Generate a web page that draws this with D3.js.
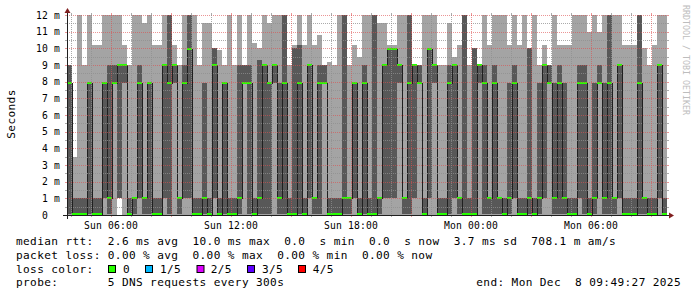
<!DOCTYPE html>
<html><head><meta charset="utf-8">
<script src="https://cdn.jsdelivr.net/npm/d3@7"></script>
<style>
html,body{margin:0;padding:0;background:#fff;}
svg{display:block;}
text{font-family:"DejaVu Sans Mono",monospace;white-space:pre;}
</style></head><body>
<svg id="c" width="697" height="297"></svg>
<script>
// ---- data (15-minute bins, values in ms) ----
const binMinutes = 15;
const startTime = new Date(2025, 11, 7, 3, 49, 27);
const endTime = new Date(2025, 11, 8, 9, 49, 27);

const median = [
7.9,0.06,0.06,0.06,7.9,0.06,0.06,7.9,1.04,7.9,
9.0,9.0,0.06,1.04,7.9,1.04,7.9,0.06,0.06,9.0,
7.9,9.0,1.04,7.9,9.96,0.06,0.06,1.04,0.06,9.0,
0.06,7.9,0.06,0.06,1.04,7.9,7.9,0.06,1.04,9.0,
7.9,9.0,1.04,7.9,0.06,0.06,7.9,0.06,9.0,1.04,
7.9,7.9,0.06,0.06,0.06,1.04,1.04,7.9,0.06,7.9,
0.06,0.06,1.04,9.0,9.96,9.96,9.0,1.04,7.9,9.0,
7.9,0.06,9.96,9.0,0.06,0.06,7.9,9.0,1.04,0.06,
0.06,0.06,9.0,7.9,1.04,7.9,1.04,0.06,1.04,7.9,
0.06,0.06,1.04,0.06,1.04,9.0,7.9,1.04,7.9,1.04,
0.06,0.06,7.9,7.9,0.06,1.04,7.9,1.04,7.9,1.04,
9.0,0.06,0.06,0.06,7.9,1.04,0.06,0.06,9.0,0.06];

const pMax = [
9.0,3.5,12.5,9.0,12.5,10.2,10.2,12.5,12.5,12.5,
12.5,10.2,9.0,12.5,12.5,11.5,12.5,10.2,10.2,12.5,
12.5,10.2,9.0,12.5,12.5,12.5,9.0,11.5,11.5,10.0,
9.9,9.0,12.5,9.0,12.5,9.0,12.5,10.3,10.0,12.5,
11.5,12.5,12.5,12.5,9.0,10.2,12.5,10.2,12.5,10.2,
10.8,9.0,9.2,9.0,12.5,12.5,9.0,10.2,9.5,12.5,
12.5,12.5,11.5,11.5,10.2,10.2,12.5,12.5,12.5,9.0,
9.0,12.5,12.5,12.5,9.0,9.0,11.5,9.5,10.2,12.5,
9.0,10.0,9.0,12.5,10.2,12.5,12.5,12.5,10.2,12.5,
10.2,12.5,10.0,12.5,9.0,10.2,9.0,12.5,10.2,10.2,
10.2,12.5,12.5,12.5,11.0,12.5,11.0,12.5,12.5,12.5,
12.5,10.2,10.2,10.2,12.5,10.0,9.0,10.2,12.5,12.5];

const pHigh = [
9.0,1.05,1.05,1.05,7.95,1.05,1.05,7.95,9.0,9.0,
9.0,9.0,1.05,1.05,9.0,1.05,7.95,1.05,1.05,9.0,
12.5,9.0,1.05,9.0,12.5,1.05,1.05,7.95,1.05,10.0,
1.05,7.95,1.05,1.05,9.0,9.0,9.0,1.05,9.3,9.0,
7.95,9.0,7.95,12.5,1.05,10.0,10.2,1.05,9.0,1.05,
9.0,9.0,1.05,1.05,1.05,12.5,1.05,7.95,1.05,9.0,
1.05,12.5,1.05,9.0,10.0,10.0,9.0,1.05,12.5,9.0,
9.0,1.05,10.0,9.0,1.05,1.05,9.0,9.0,1.05,12.5,
1.05,10.0,9.0,9.0,1.05,9.0,1.05,1.05,7.95,9.0,
1.05,1.05,10.0,1.05,7.95,9.0,9.0,7.95,9.0,7.95,
1.05,1.05,9.0,9.0,1.05,7.95,9.0,7.95,12.5,1.05,
9.0,1.05,1.05,1.05,12.5,1.05,1.05,1.05,9.0,1.05];

const pLow = [
.06,.06,.06,.06,.06,.06,.06,1,.06,7.9,
1,7.9,.06,.06,1,.06,.06,.06,.06,1,
.06,7.9,.06,1,1,.06,.06,.06,.06,1,
.06,.06,.06,.06,.06,7.9,.06,.06,.06,.06,
.06,7.9,.06,.06,.06,.06,.06,.06,1,.06,
.06,7.9,.06,.06,.06,.06,.06,1,.06,.06,
.06,.06,.06,1,1,1,7.9,.06,.06,1,
7.9,.06,1,7.9,.06,.06,.06,1,.06,.06,
.06,.06,7.9,.06,.06,.06,.06,.06,.06,1,
.06,.06,.06,.06,.06,1,7.9,.06,.06,.06,
.06,.06,1,.06,.06,.06,7.9,.06,.06,.06,
1,.06,.06,.06,.06,.06,.06,.06,1,.06];

const pMinVal = [
.03,.03,.03,.03,.03,.03,.03,.03,.03,.03,
1,.03,.03,.03,.03,.03,.03,.03,.03,.03,
.03,.03,.03,.03,.03,.03,.03,.03,.03,.03,
.03,.03,.03,.03,.03,.03,.03,.03,.03,.03,
.03,.03,.03,.03,.03,.03,.03,.03,.03,.03,
.03,.03,.03,.03,.03,.03,.03,.03,.03,.03,
.03,.03,.03,.03,.03,.03,.03,.03,.03,.03,
.03,.03,.03,.03,.03,.03,.03,.03,.03,.03,
.03,.03,.03,.03,.03,.03,.03,.03,.03,.03,
.03,.03,.03,.03,.03,.03,.03,.03,.03,.03,
.03,.03,.03,.03,.03,.03,.03,.03,.03,.03,
.03,.03,.03,.03,.03,.03,.03,.03,.03,.03];

const yTickValues = [0,1,2,3,4,5,6,7,8,9,10,11,12];
const lossLabels = ["0","1/5","2/5","3/5","4/5"];
const lossColors = ["#26ff00","#00b8ff","#dd00ff","#5e00ff","#ff0000"];
const legendRows = [
  "median rtt:  2.6 ms avg  10.0 ms max  0.0  s min  0.0  s now  3.7 ms sd  708.1 m am/s",
  "packet loss: 0.00 % avg  0.00 % max  0.00 % min  0.00 % now",
  "loss color:",
  "probe:       5 DNS requests every 300s"
];
const endLabel = "end: Mon Dec  8 09:49:27 2025";

// ---- drawing ----
const svg = d3.select("#c");
const X0 = 67, X1 = 667, Y0 = 215, Y1 = 15;
const x = d3.scaleTime().domain([startTime, endTime]).range([X0, X1]);
const y = d3.scaleLinear().domain([0, 12]).range([Y0, Y1]);

svg.append("rect").attr("width",697).attr("height",297).attr("fill","#fff");
svg.append("clipPath").attr("id","pc").append("rect")
  .attr("x",X0).attr("y",Y1).attr("width",X1-X0).attr("height",Y0-Y1);

const bins = median.map((m,i)=>({
  t0: d3.timeMinute.offset(startTime, i*binMinutes),
  t1: d3.timeMinute.offset(startTime, (i+1)*binMinutes),
  med: m, mx: pMax[i], hi: pHigh[i], lo: pLow[i], mn: pMinVal[i]
}));

const g = svg.append("g").attr("clip-path","url(#pc)").attr("shape-rendering","crispEdges");
const bx = d => Math.round(x(d.t0));
const bw = d => Math.round(x(d.t1)) - Math.round(x(d.t0));
g.selectAll("rect.light").data(bins).join("rect")
  .attr("x",bx).attr("width",bw)
  .attr("y",d=>Math.round(y(d.mx))).attr("height",d=>Math.round(y(d.mn))-Math.round(y(d.mx)))
  .attr("fill","#a4a4a4");
g.selectAll("rect.dark").data(bins).join("rect")
  .attr("x",bx).attr("width",bw)
  .attr("y",d=>Math.round(y(d.hi))).attr("height",d=>Math.round(y(d.lo))-Math.round(y(d.hi)))
  .attr("fill","#585858");
const linePts = bins.map(b=>({t:b.t0,v:b.med})).concat([{t:bins[bins.length-1].t1, v:bins[bins.length-1].med}]);
g.append("path").datum(linePts)
  .attr("d", d3.line().x(d=>Math.round(x(d.t))+0.5).y(d=>Math.round(y(d.v))+0.5).curve(d3.curveStepAfter))
  .attr("fill","none").attr("stroke","#202020").attr("stroke-width",1);
g.selectAll("rect.med").data(bins).join("rect")
  .attr("x",bx).attr("width",bw)
  .attr("y",d=>Math.round(y(d.med))-1).attr("height",2)
  .attr("fill",lossColors[0]);

// grid
const minorCol = "rgba(143,143,143,0.75)", majorCol = "rgba(222,79,79,0.6)";
const grid = svg.append("g").attr("shape-rendering","crispEdges");
const yMinor = d3.range(0.5, 12, 1);
yMinor.forEach(v=>{
  const yy = Math.round(y(v))+0.5;
  grid.append("line").attr("x1",X0).attr("x2",X1).attr("y1",yy).attr("y2",yy)
    .attr("stroke",minorCol).attr("stroke-dasharray","1,1");
  grid.append("line").attr("x1",X0-2).attr("x2",X0).attr("y1",yy).attr("y2",yy).attr("stroke",minorCol);
  grid.append("line").attr("x1",X1).attr("x2",X1+2).attr("y1",yy).attr("y2",yy).attr("stroke",minorCol);
});
yTickValues.filter(v=>v>0).forEach(v=>{
  const yy = Math.round(y(v))+0.5;
  grid.append("line").attr("x1",X0).attr("x2",X1).attr("y1",yy).attr("y2",yy)
    .attr("stroke",majorCol).attr("stroke-dasharray","1,1");
  grid.append("line").attr("x1",X0-2).attr("x2",X0).attr("y1",yy).attr("y2",yy).attr("stroke",majorCol);
  grid.append("line").attr("x1",X1).attr("x2",X1+2).attr("y1",yy).attr("y2",yy).attr("stroke",majorCol);
});
const hours = d3.timeHour.range(d3.timeHour.ceil(startTime), endTime);
hours.forEach(t=>{
  const major = t.getHours() % 3 === 0;
  const xx = Math.round(x(t))+0.5, col = major ? majorCol : minorCol;
  grid.append("line").attr("x1",xx).attr("x2",xx).attr("y1",Y1).attr("y2",Y0)
    .attr("stroke",col).attr("stroke-dasharray","1,1");
  grid.append("line").attr("x1",xx).attr("x2",xx).attr("y1",Y0).attr("y2",Y0+2).attr("stroke",col);
  grid.append("line").attr("x1",xx).attr("x2",xx).attr("y1",Y1-2).attr("y2",Y1).attr("stroke",col);
});

// axes
const ax = svg.append("g").attr("shape-rendering","crispEdges");
ax.append("line").attr("x1",X0-4).attr("x2",X1+4).attr("y1",Y0+0.5).attr("y2",Y0+0.5).attr("stroke","#1f1f1f");
ax.append("line").attr("x1",X0+0.5).attr("x2",X0+0.5).attr("y1",Y0+4).attr("y2",Y1-4).attr("stroke","#1f1f1f");
svg.append("path").attr("d",`M${X1+2},${Y0-2.5}L${X1+2},${Y0+3.5}L${X1+7},${Y0+0.5}Z`).attr("fill","#801f1f");
svg.append("path").attr("d",`M${X0-2.5},${Y1-2}L${X0+3.5},${Y1-2}L${X0+0.5},${Y1-7}Z`).attr("fill","#801f1f");

// y labels
const yAxis = d3.axisLeft(y).tickValues(yTickValues).tickSize(0).tickPadding(0)
  .tickFormat(v => v === 0 ? "0\u00a0\u00a0" : v + " m");
const yg = svg.append("g").attr("transform",`translate(${X0-7},0)`).call(yAxis);
yg.select(".domain").remove();
yg.selectAll("text").attr("font-family","DejaVu Sans Mono").attr("font-size","9.7px")
  .attr("letter-spacing","0.16px").attr("fill","#000").attr("dy","0.34em").attr("x",0);

// x labels
const xAxis = d3.axisBottom(x).ticks(d3.timeHour.every(6)).tickSize(0).tickPadding(0)
  .tickFormat(d3.timeFormat("%a %H:%M"));
const xg = svg.append("g").attr("transform",`translate(0,${Y0})`).call(xAxis);
xg.select(".domain").remove();
xg.selectAll("text").attr("font-family","DejaVu Sans Mono").attr("font-size","9.7px")
  .attr("letter-spacing","0.16px").attr("fill","#000").attr("dy",null).attr("y",13.5);

// side texts
svg.append("text").attr("transform","translate(15,114) rotate(-90)").attr("text-anchor","middle")
  .attr("font-size","11.1px").attr("letter-spacing","0.38px").attr("fill","#000").text("Seconds");
svg.append("text").attr("transform","translate(683,5) rotate(90)").attr("text-anchor","start")
  .attr("font-size","8.3px").attr("fill","#bdbdbd").text("RRDTOOL / TOBI OETIKER");

// legend
const rowBase = [245, 258.8, 272.6, 286.4];
legendRows.forEach((s,i)=>{
  svg.append("text").attr("x",16).attr("y",rowBase[i]).attr("font-size","11.1px")
    .attr("letter-spacing","0.38px").attr("fill","#000").text(s);
});
const boxX = [108.5, 145.5, 197, 247.5, 298.5];
const labX = [123, 160, 210.7, 262, 312.7];
lossLabels.forEach((l,i)=>{
  svg.append("rect").attr("x",boxX[i]).attr("y",265.5).attr("width",7).attr("height",7)
    .attr("fill",lossColors[i]).attr("stroke","#000").attr("stroke-width",1);
  svg.append("text").attr("x",labX[i]).attr("y",rowBase[2]).attr("font-size","11.1px")
    .attr("letter-spacing","0.38px").attr("fill","#000").text(l);
});
svg.append("text").attr("x",681).attr("y",rowBase[3]).attr("text-anchor","end").attr("font-size","11.1px")
  .attr("letter-spacing","0.38px").attr("fill","#000").text(endLabel);
</script>
</body></html>
